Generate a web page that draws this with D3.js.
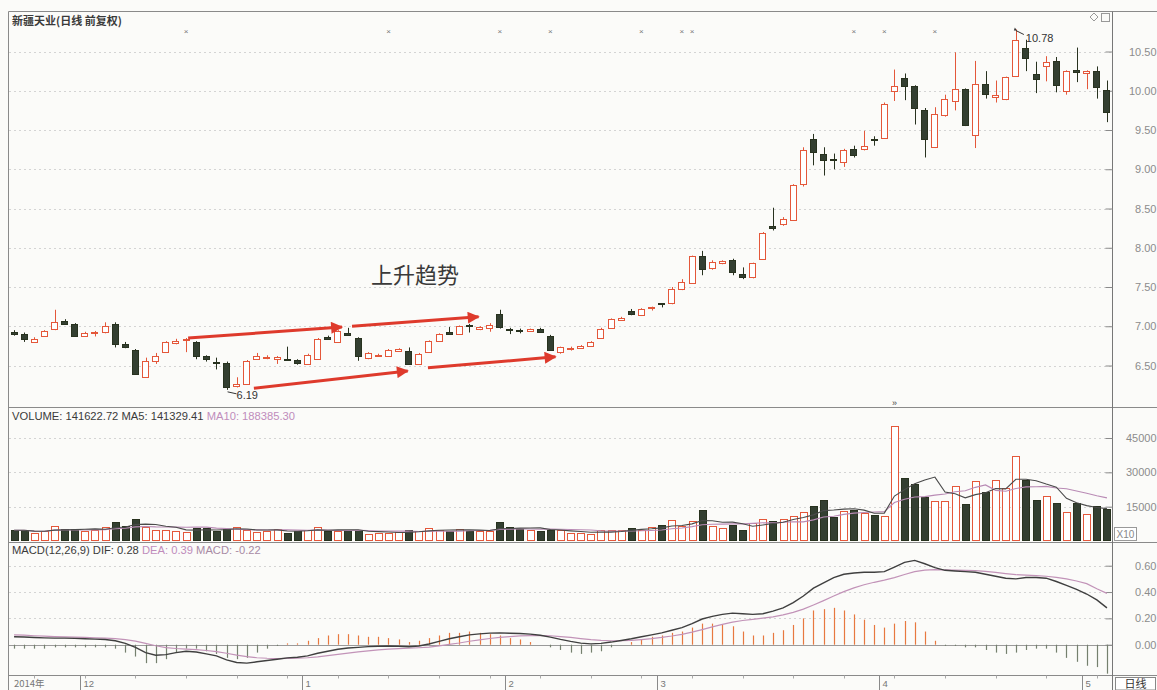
<!DOCTYPE html>
<html>
<head>
<meta charset="UTF-8">
<title>新疆天业(日线 前复权)</title>
<style>
  body { margin: 0; background: #fbfbf9; }
  svg { display: block; font-family: "Liberation Sans", "DejaVu Sans", sans-serif; }
  .cjk { font-family: "Noto Sans CJK SC", sans-serif; }
</style>
</head>
<body>
<svg width="1157" height="690"></svg>
<script src="https://cdn.jsdelivr.net/npm/d3@7/dist/d3.min.js"></script>
<script>
// daily bars, Nov 2014 - May 2015
const opens = [6.93,6.90,6.80,6.88,6.96,7.07,7.03,6.88,6.92,6.92,
  7.03,6.77,6.70,6.36,6.55,6.67,6.78,6.83,6.80,6.62,
  6.55,6.53,6.25,6.27,6.58,6.60,6.58,6.58,6.57,6.52,
  6.58,6.86,6.80,6.92,6.85,6.60,6.63,6.62,6.69,6.68,
  6.52,6.67,6.81,6.93,6.90,7.02,6.96,6.98,7.15,6.96,
  6.95,6.94,6.97,6.88,6.66,6.72,6.72,6.75,6.86,6.98,
  7.09,7.19,7.14,7.23,7.29,7.29,7.47,7.55,7.90,7.74,
  7.80,7.84,7.67,7.62,7.86,8.28,8.31,8.36,8.82,9.38,
  9.20,9.13,9.09,9.26,9.26,9.39,9.40,10.00,10.16,10.06,
  9.76,9.28,9.68,9.87,10.02,9.43,10.09,9.92,9.89,10.19,
  10.55,10.21,10.32,10.38,10.00,10.27,10.22,10.25,10.01];
const highs = [6.95,6.92,6.86,6.95,7.21,7.09,7.04,6.93,6.94,7.05,
  7.05,6.80,6.71,6.60,6.66,6.81,6.84,6.85,6.81,6.63,
  6.60,6.55,6.35,6.57,6.66,6.63,6.62,6.74,6.58,6.65,
  6.85,6.88,6.95,6.98,6.86,6.67,6.65,6.71,6.72,6.73,
  6.66,6.82,6.91,6.99,7.01,7.03,7.00,7.04,7.21,6.98,
  6.97,6.97,6.98,6.89,6.74,6.74,6.76,6.81,6.98,7.10,
  7.12,7.22,7.23,7.25,7.29,7.50,7.60,7.90,7.96,7.84,
  7.84,7.86,7.75,7.81,8.20,8.51,8.39,8.81,9.28,9.45,
  9.28,9.20,9.26,9.30,9.49,9.42,9.85,10.27,10.22,10.07,
  9.78,9.79,9.95,10.49,10.03,10.38,10.25,10.13,10.18,10.78,
  10.65,10.37,10.44,10.43,10.26,10.55,10.26,10.31,10.13];
const lows = [6.88,6.80,6.79,6.87,6.95,7.02,6.87,6.87,6.87,6.91,
  6.73,6.72,6.39,6.35,6.52,6.66,6.77,6.67,6.58,6.55,
  6.45,6.19,6.22,6.26,6.57,6.58,6.52,6.56,6.51,6.51,
  6.57,6.83,6.79,6.89,6.56,6.58,6.61,6.61,6.68,6.51,
  6.51,6.66,6.80,6.90,6.89,6.92,6.95,6.93,6.97,6.90,
  6.91,6.93,6.92,6.69,6.65,6.69,6.71,6.74,6.85,6.97,
  7.08,7.14,7.13,7.20,7.24,7.28,7.46,7.54,7.65,7.72,
  7.79,7.65,7.60,7.61,7.85,8.22,8.28,8.35,8.78,9.05,
  8.92,9.00,9.03,9.15,9.24,9.30,9.39,9.87,9.88,9.57,
  9.15,9.27,9.67,9.75,9.55,9.27,9.90,9.85,9.88,10.18,
  10.25,9.97,10.12,9.98,9.95,10.11,10.02,9.90,9.60];
const closes = [6.90,6.83,6.84,6.94,7.05,7.03,6.88,6.92,6.93,7.00,
  6.77,6.73,6.40,6.56,6.62,6.80,6.81,6.84,6.62,6.58,
  6.54,6.22,6.27,6.56,6.62,6.61,6.61,6.57,6.53,6.64,
  6.84,6.84,6.94,6.90,6.62,6.66,6.63,6.70,6.71,6.52,
  6.65,6.81,6.90,6.91,7.00,7.01,6.99,7.02,6.98,6.95,
  6.94,6.96,6.93,6.70,6.73,6.72,6.75,6.80,6.97,7.09,
  7.11,7.15,7.22,7.24,7.28,7.47,7.56,7.89,7.74,7.82,
  7.83,7.69,7.63,7.80,8.19,8.25,8.37,8.80,9.25,9.22,
  9.12,9.12,9.24,9.18,9.30,9.38,9.83,10.06,10.06,9.78,
  9.39,9.70,9.89,10.02,9.56,10.08,9.96,9.95,10.17,10.65,
  10.42,10.15,10.37,10.08,10.25,10.25,10.25,10.05,9.73];
// volume (x10 shares)
const volumes = [4700,4700,3500,4200,6700,5200,5200,4400,5000,6000,
  8500,6700,9700,6000,5000,4800,4500,4000,5500,5800,
  4300,5200,6000,4800,3800,4300,5300,3500,4500,4700,
  6200,4500,4500,4700,4700,3000,3500,3600,3800,5000,
  4200,5500,5000,4400,5300,4500,4500,4200,8200,6000,
  5300,4700,4500,4700,4700,3500,3300,3000,4800,4800,
  5000,5700,5000,6200,6800,9200,6600,8600,13400,6600,
  5600,7000,5000,8000,9500,8800,9500,11000,12500,15300,
  18100,10700,13000,13500,12200,11200,11000,50300,27500,25000,
  19300,17500,17500,24000,16000,26300,21500,26700,23300,37000,
  26500,18000,19500,16700,12500,16800,11800,15400,14162];
// MACD(12,26,9)
const difs = [0.060,0.058,0.055,0.052,0.050,0.050,0.048,0.045,0.042,0.040,
  0.030,0.010,-0.020,-0.060,-0.080,-0.075,-0.060,-0.050,-0.055,-0.070,
  -0.085,-0.115,-0.135,-0.140,-0.130,-0.120,-0.110,-0.100,-0.095,-0.085,
  -0.065,-0.050,-0.035,-0.025,-0.020,-0.015,-0.012,-0.010,-0.012,-0.015,
  -0.010,0.005,0.025,0.045,0.060,0.075,0.082,0.088,0.090,0.087,
  0.085,0.080,0.072,0.058,0.040,0.025,0.012,0.006,0.010,0.020,
  0.032,0.045,0.060,0.075,0.090,0.110,0.130,0.160,0.195,0.215,
  0.230,0.240,0.235,0.230,0.235,0.255,0.280,0.320,0.370,0.430,
  0.470,0.510,0.535,0.545,0.550,0.550,0.555,0.590,0.625,0.640,
  0.615,0.585,0.565,0.560,0.555,0.550,0.535,0.520,0.505,0.500,
  0.510,0.510,0.505,0.480,0.450,0.420,0.385,0.340,0.280];
const deas = [0.075,0.072,0.068,0.065,0.062,0.060,0.057,0.055,0.052,0.050,
  0.046,0.039,0.027,0.010,-0.008,-0.022,-0.029,-0.033,-0.038,-0.044,
  -0.052,-0.065,-0.079,-0.091,-0.099,-0.103,-0.105,-0.104,-0.102,-0.099,
  -0.092,-0.083,-0.074,-0.064,-0.055,-0.047,-0.040,-0.034,-0.030,-0.027,
  -0.023,-0.018,-0.009,0.002,0.013,0.026,0.037,0.047,0.056,0.062,
  0.067,0.069,0.070,0.068,0.062,0.055,0.046,0.038,0.033,0.030,
  0.030,0.033,0.039,0.046,0.055,0.066,0.079,0.095,0.115,0.135,
  0.154,0.171,0.184,0.193,0.202,0.212,0.226,0.245,0.270,0.302,
  0.335,0.370,0.403,0.432,0.455,0.474,0.490,0.510,0.533,0.555,
  0.567,0.570,0.569,0.567,0.565,0.562,0.557,0.549,0.540,0.532,
  0.528,0.524,0.520,0.512,0.500,0.484,0.464,0.425,0.390];
const macds = [-0.03,-0.03,-0.03,-0.03,-0.02,-0.02,-0.02,-0.02,-0.02,-0.02,
  -0.03,-0.06,-0.09,-0.14,-0.14,-0.11,-0.06,-0.03,-0.03,-0.05,
  -0.07,-0.10,-0.11,-0.10,-0.06,-0.03,-0.01,0.01,0.01,0.03,
  0.05,0.07,0.08,0.08,0.07,0.06,0.06,0.05,0.04,0.02,
  0.03,0.05,0.07,0.09,0.09,0.10,0.09,0.08,0.07,0.05,
  0.04,0.02,0.00,-0.02,-0.04,-0.06,-0.07,-0.06,-0.05,-0.02,
  0.00,0.02,0.04,0.06,0.07,0.09,0.10,0.13,0.16,0.16,
  0.15,0.14,0.10,0.07,0.07,0.09,0.11,0.15,0.20,0.26,
  0.27,0.28,0.26,0.23,0.19,0.15,0.13,0.16,0.18,0.17,
  0.10,0.03,-0.01,-0.01,-0.02,-0.02,-0.04,-0.06,-0.07,-0.06,
  -0.04,-0.03,-0.03,-0.06,-0.10,-0.13,-0.16,-0.17,-0.22];

const monthStarts = [7, 29, 49, 64, 86, 106];
const monthLabels = ["12", "1", "2", "3", "4", "5"];
const priceTicks = [6.5, 7.0, 7.5, 8.0, 8.5, 9.0, 9.5, 10.0, 10.5];
const volumeTicks = [15000, 30000, 45000];
const macdTicks = [0, 0.2, 0.4, 0.6];
const infoMarks = [17, 37, 48, 53, 62, 66, 67, 83, 86, 91];

const svg = d3.select("svg");
const W = 1157, left = 9, right = 1112;
const topY = 11.5, priceBottom = 407.5, volBottom = 542.5, macdBottom = 675.5;
const red = "#e4573a", dark = "#333f31", darkStroke = "#28321f";
const axisCol = "#8a8a8a", labCol = "#8c8c8c", gridCol = "#d4d4d4";

const n = closes.length;
const x = d3.scaleBand().domain(d3.range(n)).range([left, right])
  .paddingInner(0.3).paddingOuter(0.15);
const bw = x.bandwidth();
const xc = i => x(i) + bw / 2;
const xi = d3.scaleLinear().domain([0, n - 1]).range([xc(0), xc(n - 1)]);

const y = d3.scaleLinear().domain([6.5, 10.5]).range([365.5, 51.5]);
const yV = d3.scaleLinear().domain([0, 45000]).range([541, 438]);
const yM = d3.scaleLinear().domain([0, 0.6]).range([644.7, 565.7]);

// frame
const frame = svg.append("g").attr("fill", "none").attr("stroke", axisCol);
frame.append("line").attr("x1", left - 0.5).attr("x2", W).attr("y1", topY).attr("y2", topY);
[priceBottom, volBottom, macdBottom].forEach(v =>
  frame.append("line").attr("x1", left - 0.5).attr("x2", W).attr("y1", v).attr("y2", v));
frame.append("line").attr("x1", left - 0.5).attr("x2", left - 0.5).attr("y1", topY).attr("y2", 690);
frame.append("line").attr("x1", right + 0.5).attr("x2", right + 0.5).attr("y1", topY).attr("y2", 690)
  .attr("stroke", "#777");

// grid
function grid(ticks, scale) {
  svg.append("g").selectAll("line").data(ticks).join("line")
    .attr("x1", left).attr("x2", right)
    .attr("y1", d => Math.round(scale(d)) + 0.5).attr("y2", d => Math.round(scale(d)) + 0.5)
    .attr("stroke", gridCol).attr("stroke-dasharray", "2,3");
}
grid(priceTicks, y);
grid(volumeTicks, yV);
grid(macdTicks.filter(d => d > 0), yM);
svg.append("line").attr("x1", left).attr("x2", right)
  .attr("y1", Math.round(yM(0)) + 0.5).attr("y2", Math.round(yM(0)) + 0.5)
  .attr("stroke", "#9a9a9a");

// right axes
function rightAxis(scale, ticks, fmt, minor) {
  const g = svg.append("g").attr("transform", `translate(${right + 0.5},0)`);
  g.call(d3.axisRight(scale).tickValues(minor).tickSize(-3).tickFormat(""));
  g.call(d3.axisRight(scale).tickValues(ticks).tickSize(-7).tickFormat(fmt));
  g.selectAll(".domain").remove();
  g.selectAll("line").attr("stroke", axisCol);
  g.selectAll("text").attr("x", W - right - 1).attr("text-anchor", "end")
    .attr("fill", labCol).style("font-size", "11px");
}
rightAxis(y, priceTicks, d3.format(".2f"), d3.range(6.3, 10.85, 0.1));
rightAxis(yV, volumeTicks, d3.format("d"), d3.range(5000, 50000, 5000));
rightAxis(yM, macdTicks, d3.format(".2f"), [-0.1, 0.1, 0.3, 0.5, 0.7]);

// candles
const bars = d3.range(n).map(i => ({
  i, o: opens[i], h: highs[i], l: lows[i], c: closes[i], v: volumes[i],
  up: closes[i] >= opens[i]
}));
const cg = svg.append("g");
cg.selectAll("line").data(bars).join("line")
  .attr("x1", d => Math.round(xc(d.i)) + 0.5).attr("x2", d => Math.round(xc(d.i)) + 0.5)
  .attr("y1", d => y(d.h)).attr("y2", d => y(d.l))
  .attr("stroke", d => d.up ? red : darkStroke);
cg.selectAll("rect").data(bars).join("rect")
  .attr("x", d => Math.round(x(d.i)) + 0.5).attr("width", Math.round(bw) - 1)
  .attr("y", d => Math.round(y(Math.max(d.o, d.c))) + 0.5)
  .attr("height", d => Math.max(1, Math.round(y(Math.min(d.o, d.c)) - y(Math.max(d.o, d.c)))))
  .attr("fill", d => d.up ? "#fff" : dark)
  .attr("stroke", d => d.up ? red : darkStroke)
  .attr("shape-rendering", "crispEdges");

// volume
svg.append("g").selectAll("rect").data(bars).join("rect")
  .attr("x", d => Math.round(x(d.i)) + 0.5).attr("width", Math.round(bw))
  .attr("y", d => Math.round(yV(d.v)) + 0.5)
  .attr("height", d => Math.max(1, Math.round(yV(0) - yV(d.v)) - 1))
  .attr("fill", d => d.up ? "#fff" : dark)
  .attr("stroke", d => d.up ? red : darkStroke)
  .attr("shape-rendering", "crispEdges");

const ma = (arr, k) => arr.map((_, i) => d3.mean(arr.slice(Math.max(0, i - k + 1), i + 1)));
const ma5 = ma(volumes, 5), ma10 = ma(volumes, 10);
const vline = d3.line().x((d, i) => xc(i)).y(d => yV(d));
svg.append("path").attr("d", vline(ma10)).attr("fill", "none").attr("stroke", "#b98bb5").attr("stroke-width", 1.1);
svg.append("path").attr("d", vline(ma5)).attr("fill", "none").attr("stroke", "#4a4a4a").attr("stroke-width", 1.1);

// MACD
svg.append("g").selectAll("line").data(macds).join("line")
  .attr("x1", (d, i) => Math.round(xc(i)) + 0.5).attr("x2", (d, i) => Math.round(xc(i)) + 0.5)
  .attr("y1", yM(0)).attr("y2", d => yM(d))
  .attr("stroke", d => d >= 0 ? "#e8783f" : "#75806e").attr("stroke-width", 1.2);
const mline = d3.line().x((d, i) => xc(i)).y(d => yM(d));
svg.append("path").attr("d", mline(deas)).attr("fill", "none").attr("stroke", "#c293b8").attr("stroke-width", 1.2);
svg.append("path").attr("d", mline(difs)).attr("fill", "none").attr("stroke", "#3f3f3f").attr("stroke-width", 1.4);

// headers
svg.append("text").attr("class", "cjk").attr("x", 12).attr("y", 25)
  .attr("fill", "#3a3a3a").style("font-size", "11px").style("font-weight", "bold")
  .text("新疆天业(日线 前复权)");
const vh = svg.append("text").attr("x", 12).attr("y", 420).style("font-size", "11.2px");
vh.append("tspan").attr("fill", "#3a3a3a").text("VOLUME: 141622.72  MA5: 141329.41  ");
vh.append("tspan").attr("fill", "#c08cbc").text("MA10: 188385.30");
const mh = svg.append("text").attr("x", 12).attr("y", 554).style("font-size", "11.2px");
mh.append("tspan").attr("fill", "#3a3a3a").text("MACD(12,26,9)  DIF: 0.28  ");
mh.append("tspan").attr("fill", "#c08cbc").text("DEA: 0.39  ");
mh.append("tspan").attr("fill", "#a88aa4").text("MACD: -0.22");

// info markers along the top
svg.append("g").selectAll("text").data(infoMarks).join("text")
  .attr("x", d => xc(d)).attr("y", 34).attr("text-anchor", "middle")
  .attr("fill", "#777").style("font-size", "8px").text("×");

// top right icons
svg.append("path").attr("d", "M1094,13 l4,4 l-4,4 l-4,-4 z").attr("fill", "none").attr("stroke", "#999");
svg.append("rect").attr("x", 1101.5).attr("y", 13.5).attr("width", 8).attr("height", 8)
  .attr("fill", "none").attr("stroke", "#999");

// X10 box
svg.append("rect").attr("x", right + 2.5).attr("y", 527.5).attr("width", 22).attr("height", 13)
  .attr("fill", "#fff").attr("stroke", "#999");
svg.append("text").attr("x", right + 13.5).attr("y", 538).attr("text-anchor", "middle")
  .attr("fill", "#888").style("font-size", "10px").text("X10");

// high / low labels
const hiI = highs.indexOf(d3.max(highs)), loI = lows.indexOf(d3.min(lows));
svg.append("path").attr("d", `M${xc(hiI)},${y(highs[hiI]) + 1} l8,4`).attr("stroke", "#333").attr("fill", "none");
svg.append("path").attr("d", `M${xc(hiI) - 1},${y(highs[hiI]) - 2} l2,3 l-3,0 z`).attr("fill", "#333");
svg.append("text").attr("x", xc(hiI) + 10).attr("y", y(highs[hiI]) + 12)
  .attr("fill", "#333").style("font-size", "11px").text(highs[hiI].toFixed(2));
svg.append("path").attr("d", `M${xc(loI) + 1},${y(lows[loI]) + 2} l9,2`).attr("stroke", "#333").attr("fill", "none");
svg.append("text").attr("x", xc(loI) + 10).attr("y", y(lows[loI]) + 9)
  .attr("fill", "#333").style("font-size", "11px").text(lows[loI].toFixed(2));

// volume spike marker
const vmax = volumes.indexOf(d3.max(volumes));
svg.append("text").attr("x", xc(vmax)).attr("y", 406).attr("text-anchor", "middle")
  .attr("fill", "#444").style("font-size", "9px").text("»");

// trend annotation
svg.append("defs").append("marker").attr("id", "ah")
  .attr("viewBox", "0 0 10 10").attr("refX", 9).attr("refY", 5)
  .attr("markerWidth", 4.5).attr("markerHeight", 4).attr("orient", "auto")
  .attr("markerUnits", "strokeWidth")
  .append("path").attr("d", "M0,0 L10,5 L0,10 z").attr("fill", "#de3a2c");
const arrows = [
  [17.2, 6.85, 32.4, 6.99],
  [33.4, 7.00, 45.9, 7.12],
  [23.7, 6.21, 38.9, 6.43],
  [40.9, 6.47, 53.5, 6.61]
];
svg.append("g").selectAll("line").data(arrows).join("line")
  .attr("x1", d => xi(d[0])).attr("y1", d => y(d[1]))
  .attr("x2", d => xi(d[2])).attr("y2", d => y(d[3]))
  .attr("stroke", "#de3a2c").attr("stroke-width", 3).attr("marker-end", "url(#ah)");
svg.append("text").attr("class", "cjk").attr("x", 371).attr("y", 283)
  .attr("fill", "#3a3a3a").style("font-size", "22px").text("上升趋势");

// bottom date axis
const bx = svg.append("g");
bx.append("text").attr("class", "cjk").attr("x", 14).attr("y", 687)
  .attr("fill", "#777").style("font-size", "9.5px").text("2014年");
monthStarts.forEach((s, k) => {
  const px = Math.round(xc(s) - x.step() / 2) + 0.5;
  bx.append("line").attr("x1", px).attr("x2", px).attr("y1", macdBottom).attr("y2", 690)
    .attr("stroke", axisCol);
  bx.append("text").attr("x", px + 3).attr("y", 687)
    .attr("fill", "#777").style("font-size", "9.5px").text(monthLabels[k]);
});
bx.selectAll(".wk").data(d3.range(2, n, 5)).join("line")
  .attr("x1", d => Math.round(xc(d)) + 0.5).attr("x2", d => Math.round(xc(d)) + 0.5)
  .attr("y1", macdBottom).attr("y2", macdBottom + 3).attr("stroke", "#aaa");
svg.append("rect").attr("x", right + 3.5).attr("y", 677.5).attr("width", 40).attr("height", 12.5)
  .attr("fill", "#fff").attr("stroke", "#888");
svg.append("text").attr("class", "cjk").attr("x", right + 23.5).attr("y", 688).attr("text-anchor", "middle")
  .attr("fill", "#333").style("font-size", "11px").text("日线");
</script>
</body>
</html>
